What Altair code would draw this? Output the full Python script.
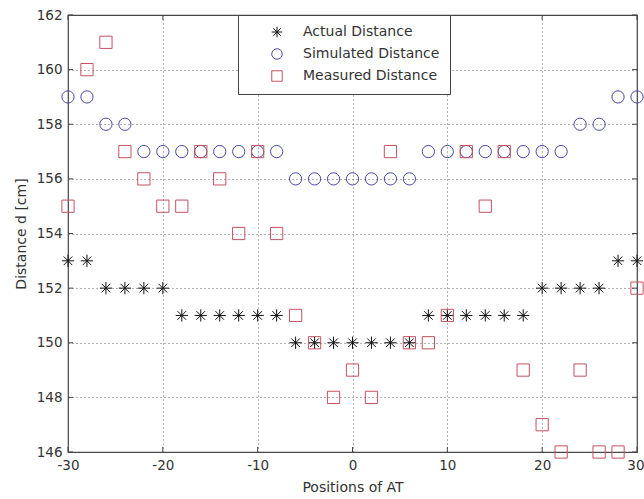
import altair as alt
import pandas as pd

# Antenna positions along the track
positions = list(range(-30, 31, 2))

actual = [153, 153, 152, 152, 152, 152, 151, 151, 151, 151, 151, 151, 150, 150, 150, 150,
          150, 150, 150, 151, 151, 151, 151, 151, 151, 152, 152, 152, 152, 153, 153]
simulated = [159, 159, 158, 158, 157, 157, 157, 157, 157, 157, 157, 157, 156, 156, 156, 156,
             156, 156, 156, 157, 157, 157, 157, 157, 157, 157, 157, 158, 158, 159, 159]
measured = [155, 160, 161, 157, 156, 155, 155, 157, 156, 154, 157, 154, 151, 150, 148, 149,
            148, 157, 150, 150, 151, 157, 155, 157, 149, 147, 146, 149, 146, 146, 152]

series_names = ["Actual Distance", "Simulated Distance", "Measured Distance"]
series_colors = ["#111111", "#4848a8", "#c85060"]
# asterisk drawn as a stroked custom path, then circle and square
asterisk = "M-1,0L1,0M0,-1L0,1M-0.7,-0.7L0.7,0.7M-0.7,0.7L0.7,-0.7"
series_shapes = [asterisk, "circle", "square"]

x_ticks = [-30, -20, -10, 0, 10, 20, 30]
y_ticks = list(range(146, 163, 2))

rows = []
for name, vals in zip(series_names, [actual, simulated, measured]):
    for p, v in zip(positions, vals):
        rows.append({"position": p, "distance": v, "series": name})
df = pd.DataFrame(rows)

W, H = 569, 437
font = "DejaVu Sans"

x_scale = alt.Scale(domain=[-30, 30], nice=False, zero=False)
y_scale = alt.Scale(domain=[146, 162], nice=False, zero=False)

legend = alt.Legend(title=None, orient="none", legendX=170, legendY=0)

points = alt.Chart(df).mark_point(filled=False, strokeWidth=1, size=150, opacity=1).encode(
    x=alt.X("position:Q", scale=x_scale,
            axis=alt.Axis(values=x_ticks, title="Positions of AT", ticks=False,
                          labelFlush=False, labelExpr="'' + datum.value",
                          # keep the rightmost label inside the page edge
                          labelAlign=alt.expr("datum.value == 30 ? 'right' : 'center'"),
                          labelOffset=alt.expr("datum.value == 30 ? 7 : 0"),
                          labelPadding=6, titlePadding=9)),
    y=alt.Y("distance:Q", scale=y_scale,
            axis=alt.Axis(values=y_ticks, title="Distance d [cm]", ticks=False,
                          labelFlush=False, labelPadding=6, titlePadding=8)),
    color=alt.Color("series:N", scale=alt.Scale(domain=series_names, range=series_colors),
                    legend=legend),
    shape=alt.Shape("series:N", scale=alt.Scale(domain=series_names, range=series_shapes),
                    legend=legend),
)

# inward tick marks on all four sides of the frame
ytick_df = pd.DataFrame({"v": y_ticks})
xtick_df = pd.DataFrame({"v": x_ticks})
tick_color = "#444444"
left_ticks = alt.Chart(ytick_df).mark_rule(color=tick_color).encode(
    y=alt.Y("v:Q", scale=y_scale), x=alt.value(0), x2=alt.value(5))
right_ticks = alt.Chart(ytick_df).mark_rule(color=tick_color).encode(
    y=alt.Y("v:Q", scale=y_scale), x=alt.value(W - 5), x2=alt.value(W))
bottom_ticks = alt.Chart(xtick_df).mark_rule(color=tick_color).encode(
    x=alt.X("v:Q", scale=x_scale), y=alt.value(H - 5), y2=alt.value(H))
top_ticks = alt.Chart(xtick_df).mark_rule(color=tick_color).encode(
    x=alt.X("v:Q", scale=x_scale), y=alt.value(0), y2=alt.value(5))

chart = alt.layer(points, left_ticks, right_ticks, bottom_ticks, top_ticks).properties(
    width=W, height=H,
    autosize=alt.AutoSizeParams(type="none"),
    padding={"left": 68, "top": 15, "right": 7, "bottom": 47},
).configure_view(
    stroke="#444444", strokeWidth=1.2
).configure_axis(
    grid=True, gridColor="#555555", gridDash=[1, 3], gridWidth=1, gridOpacity=0.9,
    domain=False, labelFont=font, labelFontSize=13.5, labelColor="#333333",
    titleFont=font, titleFontSize=14, titleFontWeight="normal", titleColor="#333333",
).configure_legend(
    labelFont=font, labelFontSize=14, labelColor="#333333",
    strokeColor="#444444", fillColor="white", padding=10,
    symbolOffset=22, labelOffset=19, rowPadding=6, symbolSize=110, symbolStrokeWidth=1,
)

chart.save("out.html", embed_options={"renderer": "svg", "actions": False})
